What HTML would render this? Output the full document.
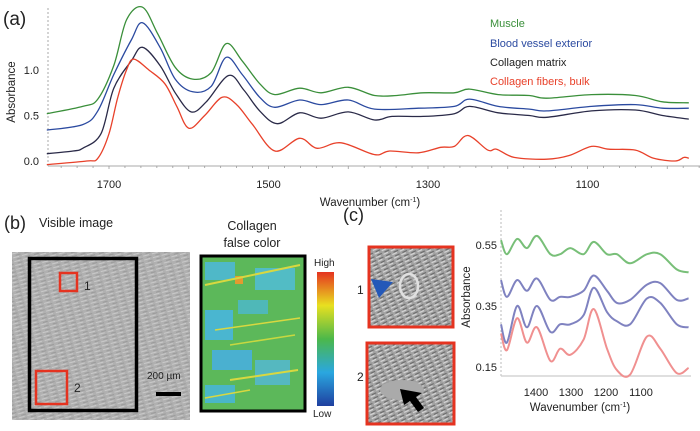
<!DOCTYPE html>
<html><head><meta charset="utf-8"><style>
html,body{margin:0;padding:0;background:#fff;}
svg{display:block;font-family:"Liberation Sans",sans-serif;}
</style></head><body>
<svg id="fig" width="700" height="431" viewBox="0 0 700 431" xmlns="http://www.w3.org/2000/svg">
<defs>
<pattern id="streak" width="9" height="4" patternUnits="userSpaceOnUse" patternTransform="rotate(-15)">
<rect width="9" height="4" fill="#b0b0b0"/>
<rect y="0" width="6" height="1" fill="#c9c9c9"/>
<rect x="3" y="2.2" width="5" height="0.9" fill="#979797"/>
</pattern>
<pattern id="streak2" width="8" height="4" patternUnits="userSpaceOnUse" patternTransform="rotate(-25)">
<rect width="8" height="4" fill="#a2a2a2"/>
<rect width="5" height="1.2" fill="#d6d6d6"/>
<rect x="2" y="2.4" width="5" height="1.1" fill="#6a6a6a"/>
</pattern>
<linearGradient id="cbar" x1="0" y1="1" x2="0" y2="0">
<stop offset="0" stop-color="#1f3f9f"/><stop offset="0.25" stop-color="#2aa7e0"/>
<stop offset="0.5" stop-color="#4cb84a"/><stop offset="0.75" stop-color="#e8e020"/>
<stop offset="1" stop-color="#e53320"/></linearGradient>
</defs>

<!-- Panel a -->
<text x="3" y="25" font-size="19" fill="#222">(a)</text>
<g id="chartA"></g>
<text x="490" y="27" font-size="11" fill="#3a8f3a">Muscle</text>
<text x="490" y="47" font-size="11" fill="#2b4aa0">Blood vessel exterior</text>
<text x="490" y="66" font-size="11" fill="#222">Collagen matrix</text>
<text x="490" y="85" font-size="11" fill="#e8412a">Collagen fibers, bulk</text>

<!-- Panel b -->
<text x="4" y="229" font-size="18" fill="#222">(b)</text>
<text x="39" y="227" font-size="12.5" fill="#222">Visible image</text>
<rect x="12" y="252" width="178" height="168" fill="url(#streak)"/>
<rect x="29.5" y="258.5" width="107" height="152" fill="none" stroke="#000" stroke-width="3.5"/>
<rect x="60" y="273" width="17" height="18" fill="none" stroke="#e53320" stroke-width="2.5"/>
<text x="84" y="290" font-size="12" fill="#222">1</text>
<rect x="36" y="371" width="31" height="33" fill="none" stroke="#e53320" stroke-width="2.5"/>
<text x="74" y="392" font-size="12" fill="#222">2</text>
<text x="147" y="379" font-size="10" fill="#222">200 µm</text>
<rect x="156" y="392" width="25" height="4" fill="#000"/>
<text x="252" y="230" font-size="12.5" fill="#222" text-anchor="middle">Collagen</text>
<text x="252" y="247" font-size="12.5" fill="#222" text-anchor="middle">false color</text>
<g>
<rect x="200" y="255" width="105" height="156" fill="#5cb85a"/>
<rect x="205" y="262" width="30" height="18" fill="#4fb8c8"/>
<rect x="255" y="268" width="40" height="22" fill="#52bcc5"/>
<rect x="205" y="310" width="28" height="30" fill="#4ab6d0"/>
<rect x="238" y="300" width="30" height="14" fill="#4fb8b8"/>
<rect x="212" y="350" width="40" height="20" fill="#4ab0d0"/>
<rect x="255" y="360" width="35" height="25" fill="#55b8c0"/>
<rect x="205" y="385" width="30" height="18" fill="#4ab6c8"/>
<rect x="235" y="276" width="8" height="8" fill="#e39a30"/>
<line x1="205" y1="285" x2="300" y2="265" stroke="#d8d840" stroke-width="2"/>
<line x1="215" y1="330" x2="300" y2="318" stroke="#d8d840" stroke-width="1.5"/>
<line x1="230" y1="345" x2="295" y2="335" stroke="#c8d840" stroke-width="1.5"/>
<line x1="230" y1="380" x2="298" y2="370" stroke="#d8d840" stroke-width="2"/>
<line x1="205" y1="398" x2="250" y2="390" stroke="#d8d840" stroke-width="1.5"/>
<rect x="201" y="256" width="104" height="155" fill="none" stroke="#000" stroke-width="3"/>
</g>
<rect x="317" y="272" width="17" height="134" fill="url(#cbar)"/>
<text x="314" y="266" font-size="10" fill="#222">High</text>
<text x="313" y="417" font-size="10" fill="#222">Low</text>

<!-- Panel c -->
<text x="343" y="221" font-size="18" fill="#222">(c)</text>
<text x="357" y="294" font-size="12" fill="#222">1</text>
<text x="357" y="381" font-size="12" fill="#222">2</text>
<g>
<rect x="369" y="247" width="84" height="80" fill="url(#streak2)" stroke="#e53320" stroke-width="3"/>
<ellipse cx="409" cy="286" rx="9" ry="12" fill="none" stroke="#e0e0e0" stroke-width="2.5"/>
<polygon points="371,279 393,282 379,298" fill="#2458b8"/>
</g>
<g>
<rect x="367" y="343" width="87" height="81" fill="url(#streak2)" stroke="#e53320" stroke-width="3"/>
<ellipse cx="402" cy="390" rx="22" ry="10" fill="#aaa"/>
<polygon points="400,389 422,393 416,397 424,408 418,412 410,401 404,405" fill="#000"/>
</g>
<g id="chartC"></g>
</svg>
<script>
// ---- Panel (a) data ----
const aGreenW = [1778,1733,1714,1694,1678,1658,1639,1617,1595,1572,1553,1533,1511,1492,1461,1434,1400,1367,1339,1306,1267,1248,1212,1173,1151,1095,1040,1006,973];
const aGreenV = [0.52,0.6,0.68,1.05,1.55,1.69,1.4,1.03,0.9,0.97,1.29,1.1,0.85,0.73,0.8,0.75,0.81,0.72,0.72,0.75,0.75,0.79,0.73,0.72,0.69,0.73,0.72,0.65,0.64];
const aBlueW = [1778,1733,1714,1694,1672,1658,1636,1617,1595,1572,1553,1533,1511,1492,1461,1434,1400,1367,1312,1267,1248,1212,1173,1151,1095,1040,1006,973];
const aBlueV = [0.34,0.4,0.55,0.95,1.33,1.52,1.25,0.9,0.76,0.82,1.14,0.95,0.7,0.59,0.67,0.62,0.67,0.57,0.58,0.6,0.68,0.6,0.57,0.55,0.6,0.62,0.58,0.58];
const aBlackW = [1778,1745,1733,1710,1694,1672,1658,1636,1617,1597,1578,1550,1531,1511,1489,1461,1434,1400,1367,1345,1306,1267,1248,1212,1173,1151,1095,1040,1006,973];
const aBlackV = [0.08,0.11,0.14,0.3,0.8,1.1,1.25,1.05,0.75,0.54,0.65,0.94,0.78,0.55,0.41,0.53,0.47,0.54,0.45,0.49,0.49,0.52,0.6,0.53,0.5,0.48,0.55,0.56,0.5,0.46];
const aRedW = [1778,1728,1714,1700,1689,1678,1669,1650,1630,1615,1600,1580,1558,1540,1520,1492,1461,1439,1409,1367,1348,1312,1284,1267,1250,1225,1214,1192,1151,1123,1095,1073,1040,1017,990,979,973];
const aRedV = [-0.04,0.0,0.03,0.3,0.7,1.0,1.12,1.0,0.85,0.6,0.36,0.5,0.7,0.62,0.4,0.11,0.25,0.14,0.2,0.07,0.11,0.09,0.15,0.16,0.28,0.12,0.13,0.04,0.02,0.06,0.16,0.13,0.12,0.03,0.0,0.04,0.03];
const aXTicks = [1700,1500,1300,1100];
const aYTicks = [0.0,0.5,1.0];
const aYTickLabels = ["0.0","0.5","1.0"];

// ---- Panel (c) data ----
const cW = [1500,1483,1454,1426,1397,1359,1331,1302,1264,1235,1197,1169,1131,1083,1045,998,964];
const cGreen = [0.566,0.52,0.57,0.54,0.58,0.52,0.52,0.54,0.52,0.56,0.52,0.52,0.49,0.52,0.52,0.47,0.46];
const cBlue1 = [0.435,0.38,0.435,0.40,0.44,0.37,0.38,0.38,0.40,0.45,0.40,0.36,0.37,0.42,0.425,0.37,0.375];
const cBlue2 = [0.29,0.23,0.35,0.28,0.35,0.265,0.29,0.29,0.32,0.41,0.33,0.30,0.29,0.375,0.36,0.29,0.28];
const cRed = [0.26,0.205,0.31,0.23,0.28,0.17,0.21,0.19,0.24,0.34,0.21,0.14,0.125,0.25,0.21,0.13,0.147];
const cXTicks = [1400,1300,1200,1100];
const cYTicks = [0.15,0.35,0.55];
const cYTickLabels = ["0.15","0.35","0.55"];

const NS = "http://www.w3.org/2000/svg";
function mk(tag, attrs, parent){const e=document.createElementNS(NS,tag);for(const k in attrs)e.setAttribute(k,attrs[k]);parent.appendChild(e);return e;}
function smooth(pts){
  let d="M"+pts[0][0].toFixed(1)+","+pts[0][1].toFixed(1);
  for(let i=0;i<pts.length-1;i++){
    const p0=pts[Math.max(0,i-1)],p1=pts[i],p2=pts[i+1],p3=pts[Math.min(pts.length-1,i+2)];
    const c1=[p1[0]+(p2[0]-p0[0])/6,p1[1]+(p2[1]-p0[1])/6];
    const c2=[p2[0]-(p3[0]-p1[0])/6,p2[1]-(p3[1]-p1[1])/6];
    d+=" C"+c1[0].toFixed(1)+","+c1[1].toFixed(1)+" "+c2[0].toFixed(1)+","+c2[1].toFixed(1)+" "+p2[0].toFixed(1)+","+p2[1].toFixed(1);
  }
  return d;
}

// Panel a axes
const gA=document.getElementById('chartA');
const ax=w=>109+(1700-w)*0.7975;
const ay=v=>161-v*91;
let el;
el=mk('line',{x1:48,y1:8,x2:48,y2:166,stroke:'#aaa','stroke-width':1,'stroke-dasharray':'2,2'},gA);


el=mk('line',{x1:48,y1:166,x2:700,y2:166,stroke:'#aaa','stroke-width':1},gA);


for(let w=1760;w>=960;w-=20){
  el=mk('line',{x1:ax(w),y1:166,x2:ax(w),y2:w%100===0?169:168,stroke:'#999','stroke-width':0.8},gA);
  
  
}
aXTicks.forEach(t=>{
  el=mk('text',{x:ax(t),y:188,'font-size':11,'text-anchor':'middle',fill:'#222'},gA);el.textContent=t;
  
  
});
aYTicks.forEach((t,i)=>{
  el=mk('text',{x:39,y:ay(t)+4,'font-size':11,'text-anchor':'end',fill:'#222'},gA);el.textContent=aYTickLabels[i];
  
  
});
el=mk('text',{x:370,y:206,'font-size':11.5,'text-anchor':'middle',fill:'#222'},gA);
el.innerHTML='Wavenumber (cm<tspan font-size="7" dy="-4">-1</tspan><tspan dy="4">)</tspan>';


el=mk('text',{x:0,y:0,'font-size':11.5,'text-anchor':'middle',fill:'#222',transform:'translate(15,92) rotate(-90)'},gA);
el.textContent='Absorbance';


[[aGreenW,aGreenV,'#3a8f3a','series-muscle'],[aBlueW,aBlueV,'#2b4aa0','series-blood-vessel'],[aBlackW,aBlackV,'#2a2a48','series-collagen-matrix'],[aRedW,aRedV,'#e8412a','series-collagen-fibers']].forEach(s=>{
  const pts=s[0].map((w,i)=>[ax(w),ay(s[1][i])]);
  el=mk('path',{d:smooth(pts),fill:'none',stroke:s[2],'stroke-width':1.3},gA);
  
  
});

// Panel c
const gC=document.getElementById('chartC');
const cx=w=>536+(1400-w)*0.35;
const cy=v=>367-(v-0.15)*305;
el=mk('line',{x1:501,y1:210,x2:501,y2:376,stroke:'#bbb','stroke-width':1,'stroke-dasharray':'2,2'},gC);


el=mk('line',{x1:501,y1:376,x2:691,y2:376,stroke:'#ccc','stroke-width':1.2},gC);


cXTicks.forEach(t=>{
  el=mk('text',{x:cx(t),y:396,'font-size':11,'text-anchor':'middle',fill:'#222'},gC);el.textContent=t;
  
  
});
cYTicks.forEach((t,i)=>{
  el=mk('text',{x:497,y:cy(t)+4,'font-size':11,'text-anchor':'end',fill:'#222'},gC);el.textContent=cYTickLabels[i];
  
  
});
el=mk('text',{x:580,y:411,'font-size':11.5,'text-anchor':'middle',fill:'#222'},gC);
el.innerHTML='Wavenumber (cm<tspan font-size="7" dy="-4">-1</tspan><tspan dy="4">)</tspan>';


el=mk('text',{x:0,y:0,'font-size':11.5,'text-anchor':'middle',fill:'#222',transform:'translate(470,297) rotate(-90)'},gC);
el.textContent='Absorbance';


[[cGreen,'#78bf78','series-c-muscle'],[cBlue1,'#7f82c0','series-c-blood-vessel'],[cBlue2,'#7f82c0','series-c-collagen-matrix'],[cRed,'#f09090','series-c-collagen-fibers']].forEach(s=>{
  const pts=cW.map((w,i)=>[cx(w),cy(s[0][i])]);
  el=mk('path',{d:smooth(pts),fill:'none',stroke:s[1],'stroke-width':2},gC);
  
  
});
</script>
</body></html>
